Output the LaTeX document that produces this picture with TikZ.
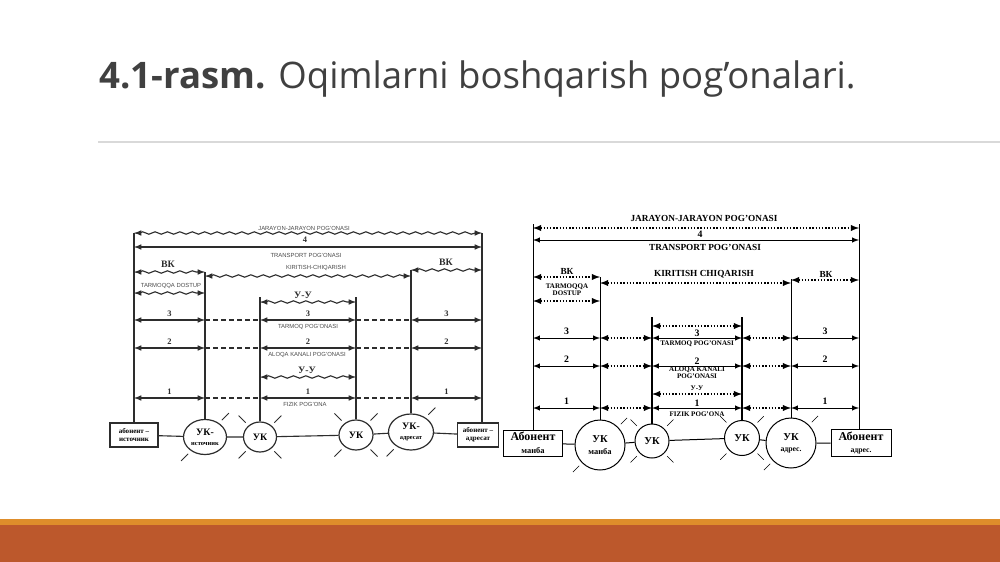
\documentclass[tikz,border=0pt]{standalone}
\usepackage{fontspec}
\setmainfont{Liberation Serif}
\newfontfamily\titlefont{Open Sans}
\newfontfamily\smallsans{Liberation Sans}
\usepackage{xcolor}
\usetikzlibrary{calc}
\usetikzlibrary{shapes.geometric}
\usetikzlibrary{decorations.pathmorphing}

\definecolor{titlegray}{RGB}{64,64,64}
\definecolor{rulegray}{RGB}{217,217,217}
\definecolor{stripe}{RGB}{222,141,43}
\definecolor{footbar}{RGB}{188,88,44}
\definecolor{scan}{RGB}{45,45,45}

\begin{document}
\begin{tikzpicture}[x=0.25mm, y=-0.25mm, semithick]
  \tikzstyle{lline}=[draw=scan, line width=0.28mm]
  \tikzstyle{larr}=[lline, latex-latex]
  \tikzstyle{ldash}=[lline, dash pattern=on 1.2mm off 0.8mm]
  \tikzstyle{lwave}=[lline, latex-latex, decorate, decoration={snake, segment length=3.1mm, amplitude=0.3mm, pre length=1.2mm, post length=1.2mm}]
  \tikzstyle{ltext}=[inner sep=0pt, text=black!70, font=\smallsans\fontsize{4.2}{5}\selectfont]
  \tikzstyle{lnum}=[inner sep=0pt, text=scan, font=\bfseries\fontsize{6}{7}\selectfont]
  \tikzstyle{lbold}=[inner sep=0pt, text=scan, font=\bfseries\fontsize{7}{8}\selectfont]
  \tikzstyle{lbox}=[draw=scan, line width=0.3mm, fill=white, rectangle, inner sep=0pt, align=center, font=\bfseries\fontsize{5}{5.5}\selectfont]
  \tikzstyle{lnode}=[draw=scan, line width=0.3mm, fill=white, ellipse, inner sep=0pt, align=center, font=\bfseries\fontsize{7}{7}\selectfont]
  \tikzstyle{rline}=[draw=black, line width=0.25mm]
  \tikzstyle{rarr}=[rline, latex-latex]
  \tikzstyle{rdot}=[rline, latex-latex, line width=0.35mm, dash pattern=on 0.35mm off 0.45mm]
  \tikzstyle{rthick}=[draw=black, line width=0.7mm]
  \tikzstyle{rbig}=[inner sep=0pt, font=\bfseries\fontsize{6.6}{7}\selectfont]
  \tikzstyle{rsmall}=[inner sep=0pt, align=center, font=\bfseries\fontsize{5}{5.2}\selectfont]
  \tikzstyle{rnum}=[inner sep=0pt, font=\bfseries\fontsize{7}{8}\selectfont]
  \tikzstyle{rbox}=[draw=black, line width=0.25mm, fill=white, rectangle, inner sep=0pt, align=center, font=\bfseries\fontsize{8.5}{9}\selectfont]
  \tikzstyle{rnode}=[draw=black, line width=0.25mm, fill=white, circle, inner sep=0pt, align=center, font=\bfseries\fontsize{7.5}{8}\selectfont]

  \useasboundingbox (0,0) rectangle (1000,562);
  \fill[white] (0,0) rectangle (1000,562);

  % title and footer
  \node[anchor=base west, inner sep=0pt, text=titlegray, font=\titlefont\fontsize{26}{30}\selectfont] (title) at (99,88) {\textbf{4.1-rasm.} Oqimlarni boshqarish pog’onalari.};
  \coordinate (rulel) at (98,142);
  \coordinate (ruler) at (1000,142);
  \draw[rulegray, line width=0.3mm] (rulel) -- (ruler);
  \fill[stripe] (0,519) rectangle (1000,525);
  \fill[footbar] (0,525) rectangle (1000,562);

  % left scheme
  \coordinate (la) at (134,233);
  \coordinate (lb) at (205,272);
  \coordinate (lc) at (260,297);
  \coordinate (ld) at (356,297);
  \coordinate (le) at (411,270);
  \coordinate (lf) at (482,233);

  \node[lbox, minimum width=12mm, minimum height=6mm] (lsrc) at (134,435) {абонент –\\источник};
  \node[lnode, minimum width=10.75mm, minimum height=8.75mm] (luk1) at (205,437) {УК-\\{\fontsize{4.6}{5}\selectfont источник}};
  \node[lnode, minimum width=8.25mm, minimum height=7.5mm] (luk2) at (260,437) {УК};
  \node[lnode, minimum width=8.5mm, minimum height=7.5mm] (luk3) at (356,435) {УК};
  \node[lnode, minimum width=11.25mm, minimum height=9mm] (luk4) at (411,432) {УК-\\{\fontsize{4.6}{5}\selectfont адресат}};
  \node[lbox, minimum width=10.25mm, minimum height=6mm] (ldst) at (478,435) {абонент –\\адресат};

  \draw[lline] (lsrc) -- (luk1) -- (luk2) -- (luk3) -- (luk4) -- (ldst);
  \foreach \c/\n in {la/lsrc, lb/luk1, lc/luk2, ld/luk3, le/luk4, lf/ldst}
    \draw[lline] (\c) -- (\c |- \n.north);

  \foreach \r/\y in {lw4/233, ls4/247, lbk/272, ltd/293, lkc/276, lbk2/270, luu/302, luu2/377}
    \coordinate (\r) at (0,\y);
  \draw[lwave] (la |- lw4) -- (lf |- lw4);
  \draw[larr] (la |- ls4) -- (lf |- ls4);
  \draw[lwave] (la |- lbk) -- (lb |- lbk);
  \draw[lwave] (la |- ltd) -- (lb |- ltd);
  \draw[lwave] (lb |- lkc) -- (le |- lkc);
  \draw[lwave] (le |- lbk2) -- (lf |- lbk2);
  \draw[lwave] (lc |- luu) -- (ld |- luu);
  \draw[lwave] (lc |- luu2) -- (ld |- luu2);

  \foreach \y/\n [count=\k] in {320/3, 348/2, 398/1} {
    \coordinate (lr\k) at (0,\y);
    \draw[larr] (la |- lr\k) -- (lb |- lr\k);
    \draw[ldash] (lb |- lr\k) -- (lc |- lr\k);
    \draw[larr] (lc |- lr\k) -- (ld |- lr\k);
    \draw[ldash] (ld |- lr\k) -- (le |- lr\k);
    \draw[larr] (le |- lr\k) -- (lf |- lr\k);
    \node[lnum, above=2pt] (ln\k a) at ($(la |- lr\k)!0.5!(lb |- lr\k)$) {\n};
    \node[lnum, above=2pt] (ln\k b) at ($(lc |- lr\k)!0.5!(ld |- lr\k)$) {\n};
    \node[lnum, above=2pt] (ln\k c) at ($(le |- lr\k)!0.5!(lf |- lr\k)$) {\n};
  }

  \node[ltext] (ljar) at (304,228) {JARAYON-JARAYON POG’ONASI};
  \node[lnum] (l4) at (305,240) {4};
  \node[ltext] (ltra) at (306,255) {TRANSPORT POG’ONASI};
  \node[ltext] (lkir) at (316,268) {KIRITISH-CHIQARISH};
  \node[lbold] (lvk) at (168,264) {ВК};
  \node[ltext] (ltdo) at (171,286) {TARMOQQA DOSTUP};
  \node[lbold] (lvk2) at (446,262) {ВК};
  \node[lbold] (luy) at (303,295) {У-У};
  \node[ltext] (ltar) at (308,327) {TARMOQ POG’ONASI};
  \node[ltext] (lalo) at (307,355) {ALOQA KANALI POG’ONASI};
  \node[lbold] (luy2) at (307,370) {У-У};
  \node[ltext] (lfiz) at (305,404) {FIZIK POG’ONA};

  % right scheme
  \coordinate (ra) at (533,224);
  \coordinate (rb) at (600,277);
  \coordinate (rc) at (652,317);
  \coordinate (rd) at (742,317);
  \coordinate (re) at (791,279);
  \coordinate (rf) at (859,224);

  \node[rbox, minimum width=14.75mm, minimum height=6.5mm] (rsrc) at (533,443) {Абонент\\{\fontsize{6}{6}\selectfont манба}};
  \node[rnode, minimum size=12.5mm] (ruk1) at (600,445) {УК\\{\fontsize{6}{6}\selectfont манба}};
  \node[rnode, minimum size=8.5mm] (ruk2) at (652,441) {УК};
  \node[rnode, minimum size=8.75mm] (ruk3) at (742,438) {УК};
  \node[rnode, minimum size=12.5mm] (ruk4) at (791,443) {УК\\{\fontsize{5.5}{6}\selectfont адрес.}};
  \node[rbox, minimum width=15mm, minimum height=6.75mm] (rdst) at (861,443) {Абонент\\{\fontsize{5.5}{6}\selectfont адрес.}};

  \draw[rline] (rsrc) -- (ruk1) -- (ruk2) -- (ruk3) -- (ruk4) -- (rdst);
  \foreach \c/\n in {ra/rsrc, rb/ruk1, re/ruk4, rf/rdst}
    \draw[rline] (\c) -- (\c |- \n.north);
  \draw[rthick] (rc) -- (rc |- ruk2.north);
  \draw[rthick] (rd) -- (rd |- ruk3.north);

  \foreach \r/\y in {rw4/228, rs4/240, rbk/277, rtd/301, rkc/283, rbk2/280, ruu/326, ruu2/394}
    \coordinate (\r) at (0,\y);
  \draw[rdot] (ra |- rw4) -- (rf |- rw4);
  \draw[rarr] (ra |- rs4) -- (rf |- rs4);
  \draw[rdot] (ra |- rbk) -- (rb |- rbk);
  \draw[rdot] (ra |- rtd) -- (rb |- rtd);
  \draw[rdot] (rb |- rkc) -- (re |- rkc);
  \draw[rdot] (re |- rbk2) -- (rf |- rbk2);
  \draw[rdot] (rc |- ruu) -- (rd |- ruu);
  \draw[rdot] (rc |- ruu2) -- (rd |- ruu2);

  \foreach \y/\n [count=\k] in {338/3, 366/2, 408/1} {
    \coordinate (rr\k) at (0,\y);
    \draw[rarr] (ra |- rr\k) -- (rb |- rr\k);
    \draw[rdot] (rb |- rr\k) -- (rc |- rr\k);
    \draw[rarr] (rc |- rr\k) -- (rd |- rr\k);
    \draw[rdot] (rd |- rr\k) -- (re |- rr\k);
    \draw[rarr] (re |- rr\k) -- (rf |- rr\k);
    \node[rnum, above=2pt] (rn\k a) at ($(ra |- rr\k)!0.5!(rb |- rr\k)$) {\n};
    \node[rnum, above=1pt] (rn\k b) at ($(rc |- rr\k)!0.5!(rd |- rr\k)$) {\n};
    \node[rnum, above=2pt] (rn\k c) at ($(re |- rr\k)!0.5!(rf |- rr\k)$) {\n};
  }

  \node[rbig] (rjar) at (704,218) {JARAYON-JARAYON POG’ONASI};
  \node[rnum] (r4) at (700,234) {4};
  \node[rbig] (rtra) at (705,247) {TRANSPORT POG’ONASI};
  \node[rbig] (rvk) at (567,271) {ВК};
  \node[rsmall] (rtdo) at (567,290) {TARMOQQA\\DOSTUP};
  \node[rbig] (rkir) at (704,274) {KIRITISH CHIQARISH};
  \node[rbig] (rvk2) at (826,274) {ВК};
  \node[rsmall] (rtar) at (697,344) {TARMOQ POG’ONASI};
  \node[rsmall] (ralo) at (697,373) {ALOQA KANALI\\POG’ONASI};
  \node[rsmall] (ruy) at (697,388) {У-У};
  \node[rsmall] (rfiz) at (697,414) {FIZIK POG’ONA};

  % rays round the exchanges
  \foreach \n in {luk1, luk4}
    \foreach \a in {45, 225}
      \draw[lline, line width=0.2mm] ($(\n.\a)!-1mm!(\n.center)$) -- ($(\n.\a)!-3.5mm!(\n.center)$);
  \foreach \n in {luk2, luk3}
    \foreach \a in {45, 135, 225, 315}
      \draw[lline, line width=0.2mm] ($(\n.\a)!-1mm!(\n.center)$) -- ($(\n.\a)!-3.5mm!(\n.center)$);
  \foreach \n in {ruk1, ruk4}
    \foreach \a in {45, 225}
      \draw[black, line width=0.15mm] ($(\n.\a)!-1mm!(\n.center)$) -- ($(\n.\a)!-3.2mm!(\n.center)$);
  \foreach \n in {ruk2, ruk3}
    \foreach \a in {45, 135, 225, 315}
      \draw[black, line width=0.15mm] ($(\n.\a)!-1mm!(\n.center)$) -- ($(\n.\a)!-3.2mm!(\n.center)$);
\end{tikzpicture}
\end{document}
